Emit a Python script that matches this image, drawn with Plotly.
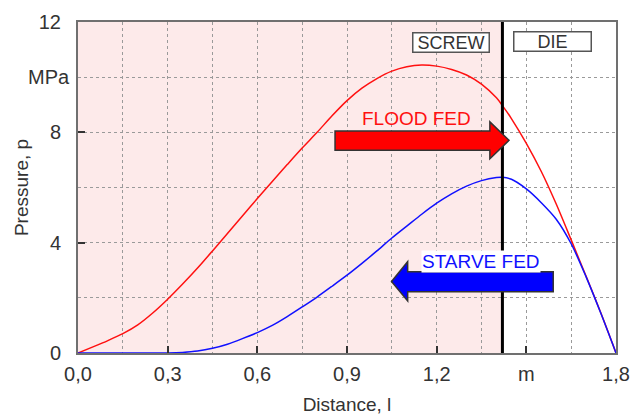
import plotly.graph_objects as go

# ---- data ----
distance = [0.0, 0.05, 0.1, 0.15, 0.2, 0.25, 0.3, 0.35, 0.4, 0.45, 0.5, 0.55, 0.6,
            0.65, 0.7, 0.75, 0.8, 0.85, 0.9, 0.95, 1.0, 1.05, 1.1, 1.15, 1.2, 1.25,
            1.3, 1.35, 1.4, 1.42, 1.45, 1.5, 1.55, 1.6, 1.65, 1.7, 1.75, 1.8]
flood_fed = [0.0, 0.22, 0.45, 0.7, 1.02, 1.45, 1.95, 2.5, 3.08, 3.7, 4.33, 4.97, 5.6,
             6.22, 6.83, 7.43, 8.0, 8.6, 9.15, 9.6, 9.95, 10.22, 10.38, 10.44, 10.4, 10.28,
             10.08, 9.75, 9.25, 8.97, 8.5, 7.6, 6.58, 5.4, 4.1, 2.78, 1.43, 0.0]
starve_fed = [0.0, 0.0, 0.0, 0.0, 0.0, 0.0, 0.0, 0.02, 0.07, 0.17, 0.32, 0.52, 0.74,
              1.0, 1.32, 1.67, 2.03, 2.42, 2.82, 3.25, 3.7, 4.17, 4.6, 5.03, 5.43, 5.77,
              6.05, 6.25, 6.36, 6.37, 6.3, 5.95, 5.45, 4.85, 3.96, 2.76, 1.42, 0.0]

x_ticks = [0.0, 0.3, 0.6, 0.9, 1.2, 1.5, 1.8]
x_tick_labels = ["0,0", "0,3", "0,6", "0,9", "1,2", "m", "1,8"]
x_minor_grid = [0.15, 0.45, 0.75, 1.05, 1.35, 1.65]
y_ticks = [0, 4, 8, 12]
y_tick_labels = ["0", "4", "8", "12"]
y_minor_grid = [2, 6, 10]
y_unit_pos = 10
screw_end = 1.42

# arrows (polygons in data units)
flood_arrow_x = [0.86, 1.378, 1.378, 1.442, 1.378, 1.378, 0.86]
flood_arrow_y = [8.05, 8.05, 8.38, 7.71, 7.04, 7.35, 7.35]
starve_arrow_x = [1.59, 1.103, 1.103, 1.049, 1.103, 1.103, 1.59]
starve_arrow_y = [2.95, 2.95, 3.31, 2.59, 1.89, 2.22, 2.22]

FONT = "Liberation Sans, Arial, sans-serif"
TXT = "#333333"

def poly(xs, ys):
    p = "M %g,%g " % (xs[0], ys[0])
    for a, b in zip(xs[1:], ys[1:]):
        p += "L %g,%g " % (a, b)
    return p + "Z"

fig = go.Figure()
fig.add_trace(go.Scatter(x=distance, y=flood_fed, mode="lines",
                         line=dict(color="#ff1010", width=1.5, shape="spline", smoothing=0.8),
                         name="FLOOD FED", showlegend=False))
fig.add_trace(go.Scatter(x=distance, y=starve_fed, mode="lines",
                         line=dict(color="#1010ff", width=1.5, shape="spline", smoothing=0.8),
                         name="STARVE FED", showlegend=False))

shapes = [
    dict(type="rect", xref="x", yref="y", x0=0, x1=screw_end, y0=0, y1=12,
         fillcolor="#fdeaea", line=dict(width=0), layer="below"),
    dict(type="line", xref="x", yref="y", x0=screw_end, x1=screw_end, y0=0, y1=12,
         line=dict(color="black", width=3), layer="above"),
    dict(type="path", xref="x", yref="y", path=poly(flood_arrow_x, flood_arrow_y),
         fillcolor="#ff0000", line=dict(color="#333333", width=1.5), layer="above"),
    dict(type="path", xref="x", yref="y", path=poly(starve_arrow_x, starve_arrow_y),
         fillcolor="#0000ff", line=dict(color="#333333", width=1.5), layer="above"),
]

annotations = [
    dict(x=1.131, y=8.5, xref="x", yref="y", text="FLOOD FED", showarrow=False,
         font=dict(family=FONT, size=19, color="#ff1010")),
    dict(x=1.349, y=3.3, xref="x", yref="y", text="STARVE FED", showarrow=False,
         font=dict(family=FONT, size=19, color="#1010ff"), bgcolor="white", borderpad=0),
    dict(x=1.247, y=11.27, xref="x", yref="y", text="SCREW", showarrow=False,
         font=dict(family=FONT, size=18, color=TXT), bgcolor="white",
         bordercolor="#555555", borderwidth=1.5, borderpad=0, width=75, height=18),
    dict(x=1.587, y=11.3, xref="x", yref="y", text="DIE", showarrow=False,
         font=dict(family=FONT, size=18, color=TXT), bgcolor="white",
         bordercolor="#555555", borderwidth=1.5, borderpad=0, width=76, height=18),
    dict(x=-0.011, y=y_unit_pos, xref="paper", yref="y", text="MPa", showarrow=False,
         xanchor="right", font=dict(family=FONT, size=20, color=TXT)),
]

grid_style = dict(gridcolor="#9a9a9a", griddash="dot", gridwidth=1)

fig.update_layout(
    width=634, height=415,
    margin=dict(l=78, r=18, t=22, b=62),
    plot_bgcolor="white", paper_bgcolor="white",
    font=dict(family=FONT, size=20, color=TXT),
    shapes=shapes, annotations=annotations,
    xaxis=dict(range=[0, 1.8], tickvals=x_ticks, ticktext=x_tick_labels,
               ticks="inside", ticklen=7, tickwidth=1.5, tickcolor="#333333",
               showgrid=True, **grid_style,
               minor=dict(tickvals=x_minor_grid, showgrid=True, ticks="", **grid_style),
               showline=True, mirror=True, linecolor="#707070", linewidth=2,
               zeroline=False, automargin=False, ticklabelstandoff=2,
               title=dict(text="Distance, l", font=dict(size=19, color=TXT), standoff=14)),
    yaxis=dict(range=[0, 12], tickvals=y_ticks, ticktext=y_tick_labels,
               ticks="inside", ticklen=7, tickwidth=1.5, tickcolor="#333333",
               showgrid=True, **grid_style,
               minor=dict(tickvals=y_minor_grid, showgrid=True, ticks="", **grid_style),
               showline=True, mirror=True, linecolor="#707070", linewidth=2,
               zeroline=False, automargin=False, ticklabelstandoff=11,
               title=dict(text="Pressure, p", font=dict(size=19, color=TXT), standoff=5)),
)

fig.write_html("out.html", config={"displayModeBar": False},
               post_script="document.body.style.margin='0';")
